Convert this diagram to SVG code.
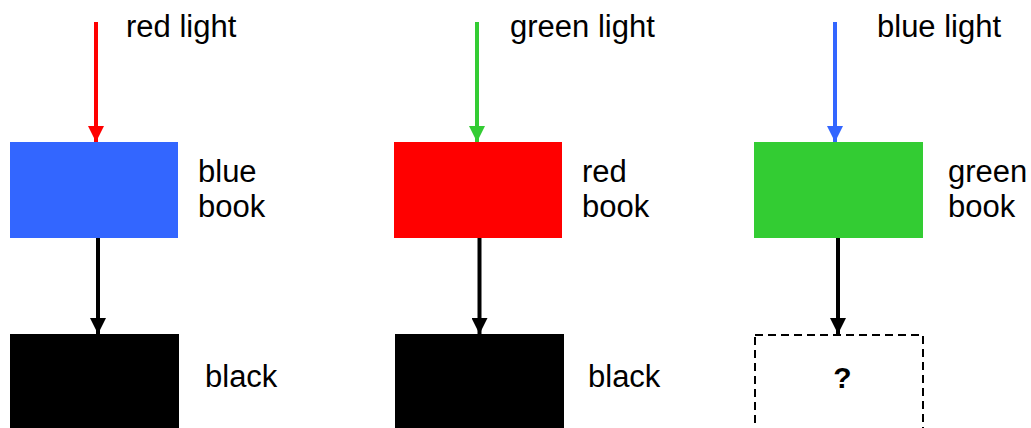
<svg xmlns="http://www.w3.org/2000/svg" width="1031" height="428" viewBox="0 0 1031 428">
<style>
.lbl{font-family:"Liberation Sans",Arial,sans-serif;font-size:31px;fill:#000}
.q{font-family:"Liberation Sans",Arial,sans-serif;font-size:30px;font-weight:bold;fill:#000}
.conn{stroke-width:4;fill:none}
</style>
<defs>
<marker id="aR" markerUnits="userSpaceOnUse" markerWidth="16" markerHeight="16" refX="16" refY="8" orient="auto"><path d="M0,0 L16,8 L0,16 z" fill="#FF0000"/></marker>
<marker id="aG" markerUnits="userSpaceOnUse" markerWidth="16" markerHeight="16" refX="16" refY="8" orient="auto"><path d="M0,0 L16,8 L0,16 z" fill="#33CC33"/></marker>
<marker id="aB" markerUnits="userSpaceOnUse" markerWidth="16" markerHeight="16" refX="16" refY="8" orient="auto"><path d="M0,0 L16,8 L0,16 z" fill="#3366FF"/></marker>
<marker id="aK" markerUnits="userSpaceOnUse" markerWidth="16" markerHeight="16" refX="16" refY="8" orient="auto"><path d="M0,0 L16,8 L0,16 z" fill="#000"/></marker>
</defs>
<rect width="1031" height="428" fill="#fff"/>
<g id="connectors">
<line class="conn" x1="96" y1="22" x2="96" y2="142" stroke="#FF0000" marker-end="url(#aR)"/>
<line class="conn" x1="98" y1="238" x2="98" y2="334" stroke="#000" marker-end="url(#aK)"/>
<line class="conn" x1="477" y1="22" x2="477" y2="142" stroke="#33CC33" marker-end="url(#aG)"/>
<line class="conn" x1="479.5" y1="238" x2="479.5" y2="334" stroke="#000" marker-end="url(#aK)"/>
<line class="conn" x1="835" y1="22" x2="835" y2="142" stroke="#3366FF" marker-end="url(#aB)"/>
<line class="conn" x1="838" y1="238" x2="838" y2="334" stroke="#000" marker-end="url(#aK)"/>
</g>
<g id="label-red-light"><text class="lbl" x="126" y="37">red light</text></g>
<g id="label-green-light"><text class="lbl" x="510" y="37">green light</text></g>
<g id="label-blue-light"><text class="lbl" x="877" y="37">blue light</text></g>
<g id="blue-book">
<rect x="10" y="142" width="168" height="96" fill="#3366FF"/>
<text class="lbl" x="198" y="182">blue</text>
<text class="lbl" x="198" y="217">book</text>
</g>
<g id="red-book">
<rect x="394" y="142" width="168" height="96" fill="#FF0000"/>
<text class="lbl" x="582" y="182">red</text>
<text class="lbl" x="582" y="217">book</text>
</g>
<g id="green-book">
<rect x="754" y="142" width="169" height="96" fill="#33CC33"/>
<text class="lbl" x="948" y="182">green</text>
<text class="lbl" x="948" y="217">book</text>
</g>
<g id="black-1">
<rect x="10" y="334" width="169" height="100" fill="#000"/>
<text class="lbl" x="205" y="387">black</text>
</g>
<g id="black-2">
<rect x="395" y="334" width="169" height="100" fill="#000"/>
<text class="lbl" x="588" y="387">black</text>
</g>
<g id="unknown">
<rect x="755" y="335" width="168" height="110" fill="none" stroke="#000" stroke-width="2" stroke-dasharray="8,5"/>
<text class="q" x="842.5" y="388" text-anchor="middle">?</text>
</g>
</svg>
